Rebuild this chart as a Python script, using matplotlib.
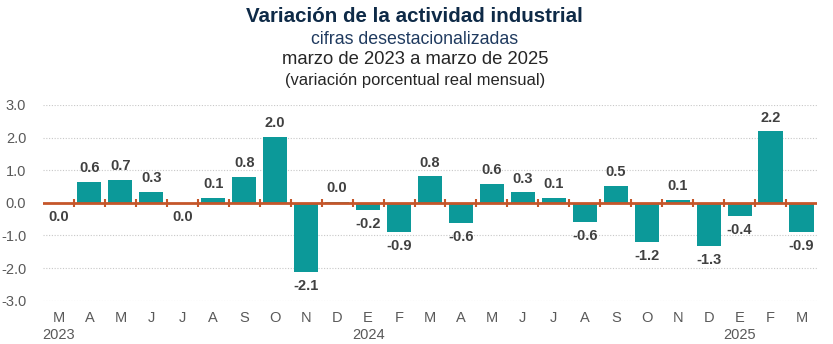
import matplotlib
matplotlib.use("Agg")
import matplotlib.pyplot as plt
import numpy as np

months = ["M", "A", "M", "J", "J", "A", "S", "O", "N", "D", "E", "F",
          "M", "A", "M", "J", "J", "A", "S", "O", "N", "D", "E", "F", "M"]
values = [-0.01, 0.63, 0.69, 0.33, -0.01, 0.15, 0.79, 2.01, -2.11, 0.04, -0.22, -0.90,
          0.81, -0.61, 0.59, 0.32, 0.14, -0.58, 0.51, -1.20, 0.08, -1.32, -0.41, 2.19, -0.89]
years = {0: "2023", 10: "2024", 22: "2025"}
yticks = [3.0, 2.0, 1.0, 0.0, -1.0, -2.0, -3.0]

plt.rcParams['font.family'] = ['Liberation Sans', 'DejaVu Sans']

fig = plt.figure(figsize=(8.33, 3.44), dpi=100)
ax = fig.add_axes([0.0516, 0.1259, 0.9292, 0.5689])

bar_color = "#0C9999"
zero_color = "#C5562A"
text_gray = "#595959"
label_gray = "#404040"

x = np.arange(len(values))
ax.bar(x, values, width=0.78, color=bar_color, zorder=2)

ax.set_xlim(-0.5, len(values) - 0.5)
ax.set_ylim(-3, 3)
ax.set_yticks(yticks)
ax.set_yticklabels([f"{t:.1f}" for t in yticks], fontsize=10.5, color=text_gray)
ax.tick_params(axis='y', length=0, pad=12)
ax.set_xticks([])
for s in ax.spines.values():
    s.set_visible(False)

for t in yticks:
    if t != 0:
        ax.axhline(t, color="#C8C8C8", lw=0.8, ls=(0, (1, 1.5)), zorder=1)

# zero line with boundary ticks
ax.axhline(0, color=zero_color, lw=2, zorder=3)
for b in np.arange(0.5, len(values) - 0.5, 1.0):
    ax.plot([b, b], [-0.13, 0.13], color=zero_color, lw=1.5, zorder=3, solid_capstyle='butt')

# value labels
for xi, v in zip(x, values):
    r = round(v, 1)
    txt = f"{abs(r):.1f}" if r == 0 else f"{r:.1f}"
    off = 10 if v > 0 else -10
    ax.annotate(txt, (xi, v), xytext=(0, off), textcoords="offset points",
                ha="center", va="center", fontsize=10.5, fontweight="bold",
                color=label_gray, zorder=4)

# month and year labels
for xi, m in zip(x, months):
    ax.annotate(m, (xi, 0), xycoords=("data", "axes fraction"), xytext=(0, -12.5),
                textcoords="offset points", ha="center", va="center",
                fontsize=10.5, color=text_gray)
for xi, yr in years.items():
    ax.annotate(yr, (xi, 0), xycoords=("data", "axes fraction"), xytext=(0, -24.5),
                textcoords="offset points", ha="center", va="center",
                fontsize=10.5, color=text_gray)

# titles
cx = 0.498
fig.text(cx, 1 - 17 / 344, "Variación de la actividad industrial", ha="center", va="center",
         fontsize=14.8, fontweight="bold", color="#0E2A47")
fig.text(cx, 1 - 39 / 344, "cifras desestacionalizadas", ha="center", va="center",
         fontsize=12.8, color="#1F3A5F")
fig.text(cx, 1 - 60 / 344, "marzo de 2023 a marzo de 2025", ha="center", va="center",
         fontsize=13.3, color="#262626")
fig.text(cx, 1 - 80 / 344, "(variación porcentual real mensual)", ha="center", va="center",
         fontsize=11.9, color="#262626")

fig.savefig("out.png", dpi=100)
